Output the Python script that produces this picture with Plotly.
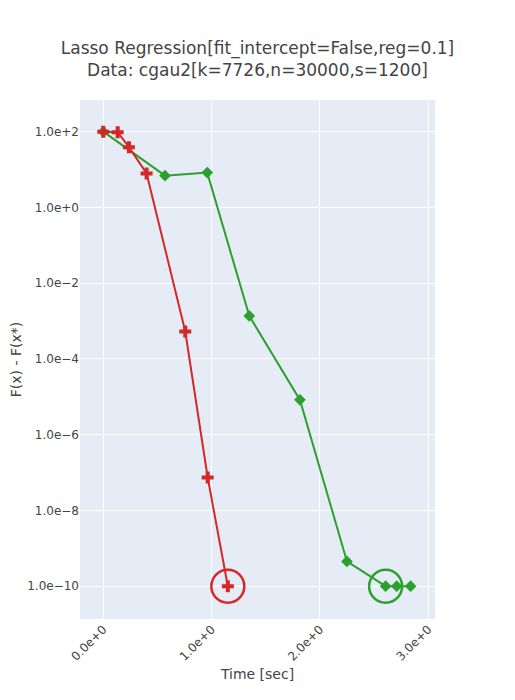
import plotly.graph_objects as go

# Series A (red, crosses)
time_a = [0.0, 0.133, 0.237, 0.40, 0.757, 0.964, 1.15]
gap_a = [100, 97, 39, 7.9, 5.3e-4, 7.4e-8, 1.0e-10]

# Series B (green, diamonds)
time_b = [0.0, 0.570, 0.960, 1.348, 1.816, 2.25, 2.607, 2.709, 2.838]
gap_b = [100, 6.9, 8.3, 1.37e-3, 8.3e-6, 4.5e-10, 1.0e-10, 1.0e-10, 1.0e-10]

# Highlighted (circled) points
circ_a_x = [time_a[-1]]
circ_a_y = [gap_a[-1]]
circ_b_x = [time_b[6]]
circ_b_y = [gap_b[6]]

RED = "#d62728"
GREEN = "#2ca02c"

fig = go.Figure()
fig.add_trace(go.Scatter(x=time_b, y=gap_b, mode="lines+markers",
                         line=dict(color=GREEN, width=2),
                         marker=dict(symbol="diamond", size=9, color=GREEN)))
fig.add_trace(go.Scatter(x=time_a, y=gap_a, mode="lines+markers",
                         line=dict(color=RED, width=2),
                         marker=dict(symbol="cross", size=10, color=RED)))
fig.add_trace(go.Scatter(x=circ_a_x, y=circ_a_y, mode="markers",
                         marker=dict(symbol="circle-open", size=33,
                                     color=RED, line=dict(width=2.5, color=RED))))
fig.add_trace(go.Scatter(x=circ_b_x, y=circ_b_y, mode="markers",
                         marker=dict(symbol="circle-open", size=33,
                                     color=GREEN, line=dict(width=2.5, color=GREEN))))

fig.update_layout(
    width=499, height=684,
    showlegend=False,
    font=dict(family="Verdana, DejaVu Sans, sans-serif", size=12, color="#444"),
    title=dict(text="Lasso Regression[fit_intercept=False,reg=0.1]<br>Data: cgau2[k=7726,n=30000,s=1200]",
               x=0.5, xanchor="center",
               font=dict(size=17)),
    margin=dict(l=72, r=72, t=92, b=73),
    plot_bgcolor="#E5ECF6",
    paper_bgcolor="white",
    xaxis=dict(title=dict(text="Time [sec]", standoff=6), range=[-0.215, 3.063], dtick=1, tick0=0,
               tickformat=".1e", tickangle=-45, gridcolor="white", zeroline=False,
               showline=False, automargin=False),
    yaxis=dict(title=dict(text="F(x) - F(x*)"), type="log", range=[-10.866, 2.836],
               dtick=2, tick0=0, tickformat=".1e", gridcolor="white", zeroline=False,
               automargin=False),
)

fig.write_html("out.html")
